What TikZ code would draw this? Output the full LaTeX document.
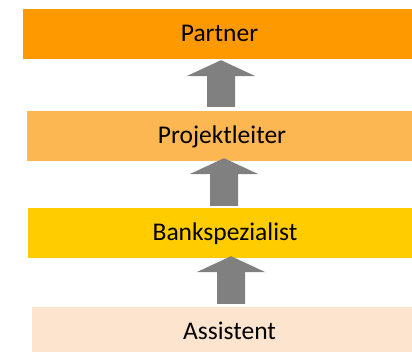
\documentclass[tikz,border=0pt]{standalone}
\usepackage{fontspec}
\setmainfont{Carlito}
\usepackage{tikz}
\usetikzlibrary{calc}
\definecolor{partnerorange}{RGB}{255, 153, 0}
\definecolor{leiterorange}{RGB}{252, 182, 82}
\definecolor{bankyellow}{RGB}{255, 204, 0}
\definecolor{assistpeach}{RGB}{252, 228, 207}
\definecolor{arrowgray}{RGB}{128, 128, 128}
\tikzset{levelbox/.style = {rectangle, inner sep = 0pt, minimum height = 50pt, text height = 18pt, text depth = 3pt, font = \fontsize{25.5}{30}\selectfont}}
\tikzset{blockarrow/.style = {fill = arrowgray}}

\begin{document}
\begin{tikzpicture}[x = 1pt, y = -1pt]

\clip (0,0) rectangle (412,352);
\fill[white] (0,0) rectangle (412,352);

\node[levelbox, fill = partnerorange, minimum width = 393pt] (partner) at (219.5, 34) {Partner};
\node[levelbox, fill = leiterorange, minimum width = 390pt] (leiter) at (222, 136) {Projektleiter};
\node[levelbox, fill = bankyellow, minimum width = 394pt] (bank) at (225, 233) {Bankspezialist};
\node[levelbox, fill = assistpeach, minimum width = 395pt] (assist) at (229.5, 332) {Assistent};

\fill[blockarrow] let \p1 = ($(leiter.north)+(0,-4)$), \p2 = ($(partner.south)+(1.5,1)$) in
  (\x2,\y2) -- (\x2+34.5pt,\y2-16pt) -- (\x2+14pt,\y2-16pt) -- (\x2+14pt,\y1)
  -- (\x2-14pt,\y1) -- (\x2-14pt,\y2-16pt) -- (\x2-34.5pt,\y2-16pt) -- cycle;
\fill[blockarrow] let \p1 = ($(bank.north)+(0,-2)$), \p2 = ($(leiter.south)+(2,-3)$) in
  (\x2,\y2) -- (\x2+34.5pt,\y2-16pt) -- (\x2+14pt,\y2-16pt) -- (\x2+14pt,\y1)
  -- (\x2-14pt,\y1) -- (\x2-14pt,\y2-16pt) -- (\x2-34.5pt,\y2-16pt) -- cycle;
\fill[blockarrow] let \p1 = ($(assist.north)+(0,-3)$), \p2 = ($(bank.south)+(6,-2)$) in
  (\x2,\y2) -- (\x2+34.5pt,\y2-16pt) -- (\x2+14pt,\y2-16pt) -- (\x2+14pt,\y1)
  -- (\x2-14pt,\y1) -- (\x2-14pt,\y2-16pt) -- (\x2-34.5pt,\y2-16pt) -- cycle;

\end{tikzpicture}
\end{document}
